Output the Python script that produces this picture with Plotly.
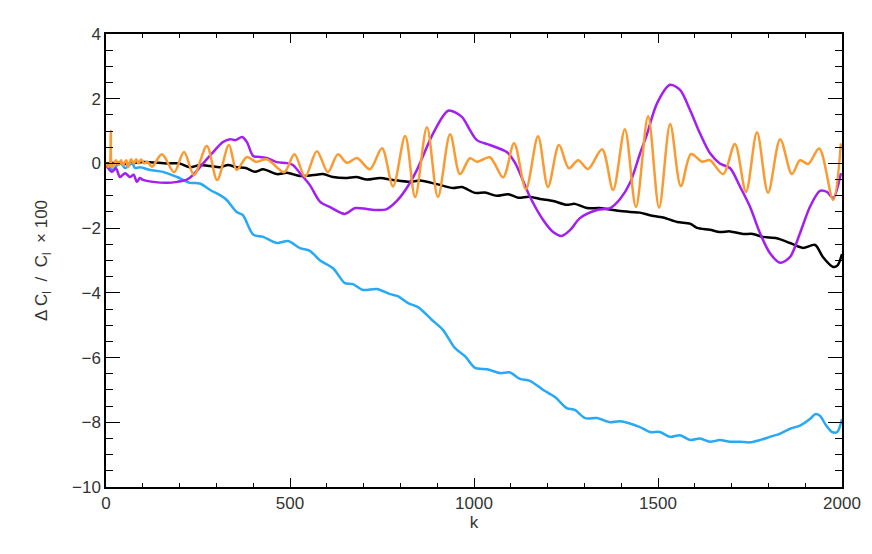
import plotly.graph_objects as go

# black curve
k_black = [0, 30, 60, 92, 120, 166, 200, 228, 255, 283, 310, 332, 355, 380, 405, 427, 464, 492, 527, 563,
           590, 617, 655, 680, 709, 745, 780, 826, 853, 899, 943, 967, 1003, 1030, 1062, 1093, 1120, 1150,
           1179, 1215, 1252, 1274, 1307, 1342, 1378, 1424, 1451, 1478, 1514, 1552, 1587, 1606, 1641, 1668,
           1696, 1731, 1758, 1785, 1823, 1859, 1894, 1927, 1948, 1976, 1988, 2000]
v_black = [0, 0.02, -0.02, 0.04, 0.04, 0.0, 0.0, -0.12, -0.05, -0.08, -0.12, -0.05, -0.12, -0.14, -0.26,
           -0.18, -0.33, -0.29, -0.39, -0.36, -0.33, -0.42, -0.45, -0.42, -0.5, -0.45, -0.51, -0.57, -0.53,
           -0.64, -0.76, -0.73, -0.91, -0.9, -1.0, -0.95, -1.06, -1.03, -1.1, -1.16, -1.28, -1.25, -1.38,
           -1.38, -1.44, -1.5, -1.52, -1.6, -1.67, -1.81, -1.86, -1.99, -2.05, -2.12, -2.1, -2.18, -2.18,
           -2.27, -2.31, -2.46, -2.61, -2.52, -2.89, -3.2, -3.15, -2.8]

# blue curve
k_blue = [0, 8, 19, 30, 38, 52, 71, 79, 92, 120, 155, 193, 228, 255, 283, 310, 328, 355, 372, 400, 427,
          464, 495, 527, 554, 582, 617, 649, 671, 698, 736, 772, 793, 821, 848, 885, 916, 948, 976, 1003,
          1035, 1071, 1098, 1125, 1152, 1188, 1220, 1252, 1274, 1302, 1334, 1370, 1397, 1451, 1478, 1505,
          1533, 1560, 1587, 1614, 1641, 1668, 1696, 1723, 1750, 1777, 1804, 1832, 1859, 1886, 1913, 1927,
          1940, 1957, 1973, 1987, 2000]
v_blue = [0, -0.1, -0.2, -0.05, 0.04, -0.14, 0.0, -0.14, -0.12, -0.2, -0.26, -0.42, -0.6, -0.62, -0.82,
          -0.98, -1.13, -1.5, -1.6, -2.2, -2.27, -2.46, -2.4, -2.62, -2.7, -3.0, -3.24, -3.7, -3.73, -3.91,
          -3.88, -4.04, -4.1, -4.32, -4.44, -4.83, -5.15, -5.7, -5.96, -6.32, -6.36, -6.48, -6.46, -6.66,
          -6.72, -7.0, -7.22, -7.56, -7.62, -7.87, -7.87, -8.0, -7.97, -8.15, -8.3, -8.3, -8.45, -8.4,
          -8.55, -8.5, -8.6, -8.55, -8.6, -8.6, -8.62, -8.55, -8.45, -8.35, -8.2, -8.1, -7.9, -7.75, -7.8,
          -8.1, -8.3, -8.3, -7.9]

# purple curve
k_purple = [0, 16, 27, 38, 52, 65, 75, 84, 92, 101, 128, 166, 193, 220, 236, 264, 291, 318, 337, 352, 370,
            383, 400, 418, 437, 464, 492, 508, 527, 554, 582, 609, 649, 677, 709, 736, 763, 791, 815, 845,
            889, 930, 967, 989, 1008, 1043, 1089, 1112, 1152, 1188, 1215, 1238, 1261, 1288, 1334, 1370,
            1397, 1424, 1451, 1470, 1497, 1533, 1560, 1587, 1614, 1641, 1668, 1696, 1723, 1750, 1777,
            1804, 1832, 1859, 1886, 1913, 1940, 1959, 1976, 1997]
v_purple = [-0.05, -0.26, -0.15, -0.42, -0.3, -0.42, -0.35, -0.57, -0.45, -0.51, -0.57, -0.6, -0.57, -0.5,
            -0.36, 0.0, 0.35, 0.66, 0.75, 0.72, 0.82, 0.66, 0.23, 0.2, 0.17, 0.04, 0.01, -0.05, -0.3, -0.67,
            -1.19, -1.35, -1.56, -1.38, -1.41, -1.44, -1.41, -1.15, -0.8, -0.2, 0.93, 1.63, 1.44, 1.03, 0.72,
            0.57, 0.35, 0.01, -1.03, -1.75, -2.12, -2.24, -2.06, -1.69, -1.44, -1.38, -1.1, -0.6, 0.3, 0.9,
            1.85, 2.43, 2.27, 1.65, 0.93, 0.32, 0.0, -0.15, -0.72, -1.34, -2.15, -2.77, -3.07, -2.89, -2.15,
            -1.34, -0.85, -0.88, -1.07, -0.3]

# orange curve
k_orange = [0, 6, 10, 13, 16, 19, 27, 34, 41, 46, 55, 60, 68, 76, 82, 88, 95, 104, 112, 125, 152, 185,
            212, 239, 274, 302, 334, 355, 383, 407, 437, 484, 512, 541, 573, 603, 630, 655, 682, 717, 750,
            780, 813, 840, 872, 902, 935, 962, 989, 1008, 1043, 1079, 1109, 1141, 1174, 1201, 1231, 1258,
            1283, 1310, 1348, 1378, 1410, 1440, 1473, 1503, 1533, 1562, 1590, 1620, 1641, 1677, 1709, 1739,
            1769, 1799, 1832, 1864, 1886, 1908, 1938, 1976, 1997]
v_orange = [0, -0.1, -0.05, 1.0, -0.1, -0.1, 0.1, -0.05, 0.1, -0.05, 0.1, -0.12, 0.13, 0.0, 0.13, 0.0,
            0.12, 0.0, 0.05, -0.1, 0.28, -0.27, 0.35, -0.36, 0.54, -0.51, 0.57, -0.2, 0.2, 0.05, 0.13, -0.27,
            0.28, -0.41, 0.38, -0.27, 0.28, 0.02, 0.17, -0.18, 0.47, -0.71, 0.85, -1.04, 1.12, -1.04, 0.9,
            -0.33, 0.16, 0.05, 0.19, -0.43, 0.62, -0.8, 0.84, -0.73, 0.57, -0.15, 0.1, -0.17, 0.44, -0.82,
            1.06, -1.35, 1.46, -1.37, 1.22, -0.7, 0.29, 0.05, 0.1, -0.33, 0.6, -0.88, 0.96, -0.91, 0.75,
            -0.33, 0.1, -0.02, 0.46, -1.13, 0.62]

fig = go.Figure()
fig.add_trace(go.Scatter(x=k_black, y=v_black, mode='lines',
                         line=dict(color='black', width=2.5, shape='spline', smoothing=0.8)))
fig.add_trace(go.Scatter(x=k_blue, y=v_blue, mode='lines',
                         line=dict(color='#27a9f5', width=2.5, shape='spline', smoothing=0.8)))
fig.add_trace(go.Scatter(x=k_purple, y=v_purple, mode='lines',
                         line=dict(color='#a21ff2', width=2.5, shape='spline', smoothing=0.8)))
fig.add_trace(go.Scatter(x=k_orange, y=v_orange, mode='lines',
                         line=dict(color='#fa9a31', width=2.5, shape='spline', smoothing=0.9)))

font = dict(family='Liberation Sans, Arial', size=17, color='#333')
common = dict(showgrid=False, zeroline=False, showline=True, linecolor='black', linewidth=1.5,
              mirror='ticks', ticks='inside', tickwidth=1.3, tickcolor='black', tickfont=font)

fig.update_layout(
    width=872, height=554,
    margin=dict(l=98, r=38, t=26, b=75),
    paper_bgcolor='white', plot_bgcolor='white',
    showlegend=False,
    xaxis=dict(range=[0, 2000], dtick=500, tick0=0, ticklen=9,
               minor=dict(dtick=100, ticks='inside', ticklen=4, tickcolor='black', tickwidth=1.2),
               title=dict(text='k', standoff=4, font=font),
               **common),
    yaxis=dict(range=[-10, 4], dtick=2, tick0=0, ticklen=14,
               minor=dict(dtick=0.5, ticks='inside', ticklen=7, tickcolor='black', tickwidth=1.2),
               title=dict(text='Δ C<sub>l</sub>  /  C<sub>l</sub>  × 100', standoff=20, font=font),
               **common),
)

fig.write_html("out.html")
